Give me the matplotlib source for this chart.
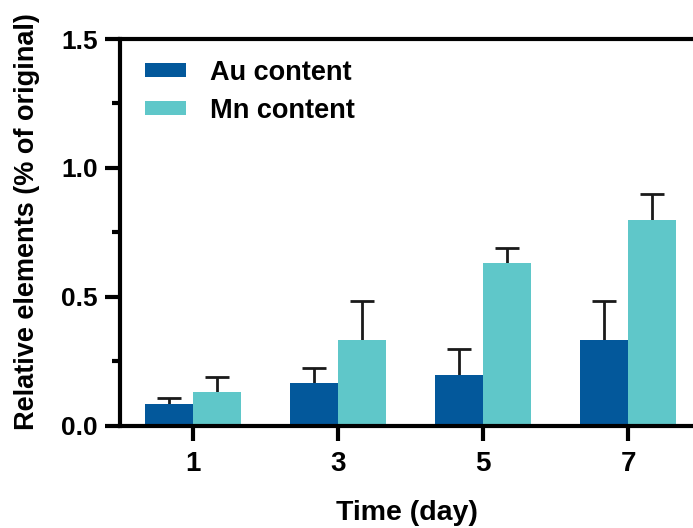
import numpy as np
import matplotlib
matplotlib.use("Agg")
import matplotlib.pyplot as plt

days = ["1", "3", "5", "7"]
au_mean = [0.084, 0.164, 0.196, 0.331]
au_err = [0.024, 0.059, 0.102, 0.153]
mn_mean = [0.129, 0.331, 0.630, 0.797]
mn_err = [0.059, 0.153, 0.059, 0.103]
series_names = ["Au content", "Mn content"]
colors = ["#03589b", "#5fc7c9"]

plt.rcParams["font.family"] = ["Liberation Sans", "DejaVu Sans"]
plt.rcParams["font.weight"] = "bold"

fig = plt.figure(figsize=(6.93, 5.28), dpi=100)
ax = fig.add_axes([0.1732, 0.194, 0.8268, 0.732])

x = np.arange(len(days))
w = 0.331

series = [(-w / 2, au_mean, au_err, colors[0], series_names[0]),
          (w / 2, mn_mean, mn_err, colors[1], series_names[1])]
for offset, mean, err, color, name in series:
    mean = np.asarray(mean)
    top = mean + np.asarray(err)
    ax.bar(x + offset, mean, w, color=color, label=name, zorder=2)
    # upper-only error bar: stem from the bar top plus a cap
    ax.vlines(x + offset, mean, top, colors="#1a1a1a", linewidth=2.0, zorder=1)
    ax.plot(x + offset, top, linestyle="none", marker="_", markersize=17,
            markeredgewidth=2.0, color="#1a1a1a", zorder=1)

ax.set_xlim(-0.503, 3.448)
ax.set_ylim(0, 1.5)
ax.set_xticks(x)
ax.set_xticklabels(days)
ax.set_yticks([0, 0.5, 1.0, 1.5])
ax.set_yticklabels(["0.0", "0.5", "1.0", "1.5"])
ax.set_yticks([0.25, 0.75, 1.25], minor=True)

for side in ["left", "bottom", "top"]:
    ax.spines[side].set_linewidth(3)
ax.spines["right"].set_visible(False)

ax.tick_params(axis="both", which="major", length=11, width=3, labelsize=19, pad=5)
ax.tick_params(axis="y", which="minor", length=6, width=3)
ax.tick_params(axis="x", labelsize=20, pad=7)

ax.set_xlabel("Time (day)", fontsize=20.5, fontweight="bold", labelpad=17)
ax.set_ylabel("Relative elements (% of original)", fontsize=19.5, fontweight="bold")
ax.yaxis.set_label_coords(-0.14, 0.527)

ax.legend(loc="upper left", bbox_to_anchor=(0.024, 0.975), frameon=False,
          fontsize=19.5, handlelength=1.52, handleheight=0.44, handletextpad=0.9,
          labelspacing=0.45, borderaxespad=0.0)

fig.savefig("out.png", dpi=100)
